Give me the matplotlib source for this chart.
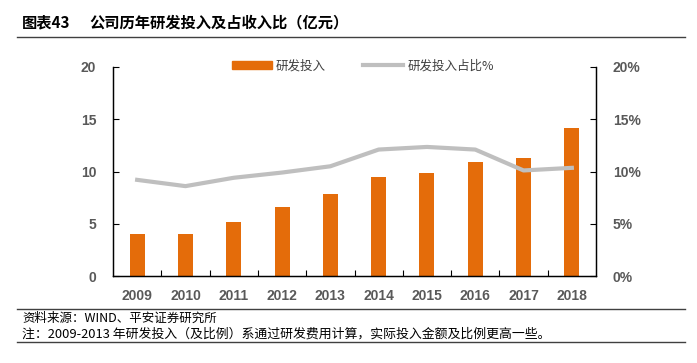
import matplotlib.pyplot as plt
from matplotlib.lines import Line2D
from matplotlib.ticker import FuncFormatter

plt.rcParams['font.family'] = ['Noto Sans CJK SC', 'DejaVu Sans']

years = ["2009", "2010", "2011", "2012", "2013", "2014", "2015", "2016", "2017", "2018"]
rd_spend = [4.0, 4.0, 5.2, 6.6, 7.8, 9.5, 9.9, 10.9, 11.3, 14.2]
rd_ratio = [9.2, 8.6, 9.4, 9.9, 10.5, 12.1, 12.35, 12.1, 10.1, 10.35]

bar_color = "#E46C0A"
line_color = "#BFBFBF"
tick_color = "#595959"

fig = plt.figure(figsize=(6.97, 3.63), dpi=100)
ax = fig.add_axes([113 / 697, 1 - 276 / 363, (596 - 113) / 697, (276 - 67) / 363])
ax2 = ax.twinx()

x = list(range(len(years)))
ax.bar(x, rd_spend, width=0.31, color=bar_color, zorder=2)
ax2.plot(x, rd_ratio, color=line_color, lw=3, zorder=3)

ax.set_xlim(-0.5, len(years) - 0.5)
ax.set_ylim(0, 20)
ax2.set_ylim(0, 20)
ax.set_yticks([0, 5, 10, 15, 20])
ax2.set_yticks([0, 5, 10, 15, 20])
ax2.yaxis.set_major_formatter(FuncFormatter(lambda v, p: f"{v:.0f}%"))

ax.set_xticks(x)
ax.set_xticklabels(years)
ax.set_xticks([i + 0.5 for i in x[:-1]], minor=True)
ax.tick_params(axis="x", which="major", length=0, pad=9)
ax.tick_params(axis="x", which="minor", direction="in", length=4, width=0.8)
for a in (ax, ax2):
    a.tick_params(axis="y", direction="in", length=4, width=0.8, pad=12)
    for lbl in a.get_yticklabels() + a.get_xticklabels():
        lbl.set_color(tick_color)
        lbl.set_fontweight("bold")
        lbl.set_fontsize(10)
        lbl.set_family("Liberation Sans")
    a.spines["top"].set_visible(False)
    for s in ("left", "right", "bottom"):
        a.spines[s].set_linewidth(0.9)
        a.spines[s].set_color("black")

handles = [
    plt.Rectangle((0, 0), 1, 1, color=bar_color),
    Line2D([0], [0], color=line_color, lw=3),
]
fig.legend(handles, ["研发投入", "研发投入占比%"], loc="center",
           bbox_to_anchor=(363 / 697, 1 - 66 / 363), ncol=2, frameon=False,
           fontsize=9, handlelength=3.2, handleheight=0.6, columnspacing=3,
           handletextpad=0.3, labelcolor="#404040")

# title and footer
fig.text(22 / 697, 1 - 22 / 363, "图表43", fontsize=11, fontweight="bold", va="center")
fig.text(89 / 697, 1 - 22 / 363, "公司历年研发投入及占收入比（亿元）", fontsize=11,
         fontweight="bold", va="center")
for y in (37, 309, 342):
    fig.add_artist(Line2D([17 / 697, 685 / 697], [1 - y / 363] * 2, color="#404040", lw=1))
fig.text(22 / 697, 1 - 318 / 363, "资料来源：WIND、平安证券研究所", fontsize=9,
         style="italic", va="center")
fig.text(22 / 697, 1 - 334 / 363,
         "注：2009-2013 年研发投入（及比例）系通过研发费用计算，实际投入金额及比例更高一些。",
         fontsize=9.3, style="italic", va="center")

fig.savefig("out.png", dpi=100)
